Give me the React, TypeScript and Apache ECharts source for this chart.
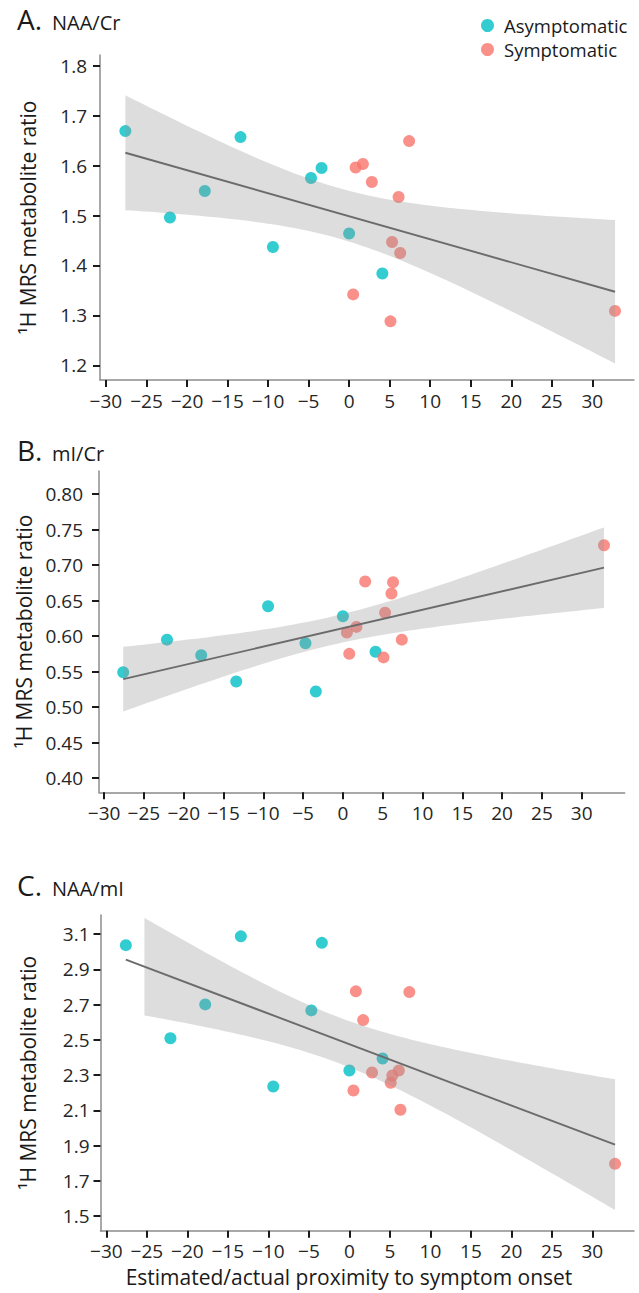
import React, { useEffect, useRef } from "react";
import * as echarts from "echarts";

// ---- data ----
const asymX = [-27.6, -22.1, -17.8, -13.4, -9.4, -4.7, -3.4, 0.0, 4.1];
const sympX = [0.5, 0.8, 1.7, 2.8, 5.1, 5.3, 6.1, 6.3, 7.4, 32.8];

const naaCrAsym = [1.669, 1.496, 1.549, 1.657, 1.437, 1.575, 1.595, 1.464, 1.384];
const naaCrSymp = [1.342, 1.596, 1.603, 1.567, 1.288, 1.447, 1.537, 1.425, 1.649, 1.309];

const miCrAsym = [0.549, 0.595, 0.573, 0.536, 0.642, 0.59, 0.522, 0.628, 0.578];
const miCrSymp = [0.605, 0.575, 0.613, 0.677, 0.57, 0.633, 0.66, 0.676, 0.595, 0.728];

const naaMiAsym = [3.037, 2.509, 2.701, 3.087, 2.236, 2.667, 3.05, 2.326, 2.394];
const naaMiSymp = [2.213, 2.775, 2.612, 2.315, 2.257, 2.298, 2.326, 2.104, 2.771, 1.797];

const xTicks = [-30, -25, -20, -15, -10, -5, 0, 5, 10, 15, 20, 25, 30];
const naaCrTicks = [1.2, 1.3, 1.4, 1.5, 1.6, 1.7, 1.8];
const miCrTicks = [0.4, 0.45, 0.5, 0.55, 0.6, 0.65, 0.7, 0.75, 0.8];
const naaMiTicks = [1.5, 1.7, 1.9, 2.1, 2.3, 2.5, 2.7, 2.9, 3.1];

const groupNames = ["Asymptomatic", "Symptomatic"];
const xTitle = "Estimated/actual proximity to symptom onset";
const yTitle = "¹H MRS metabolite ratio";

// ---- linear model fit (as geom_smooth(method = "lm")) ----
const T_CRIT = 2.1098; // t(0.975, df = 17)
function linFit(xs: number[], ys: number[]) {
  const n = xs.length;
  const mx = xs.reduce((s, v) => s + v, 0) / n;
  const my = ys.reduce((s, v) => s + v, 0) / n;
  let sxx = 0, sxy = 0;
  for (let i = 0; i < n; i++) {
    sxx += (xs[i] - mx) ** 2;
    sxy += (xs[i] - mx) * (ys[i] - my);
  }
  const b = sxy / sxx;
  const a = my - b * mx;
  let rss = 0;
  for (let i = 0; i < n; i++) rss += (ys[i] - a - b * xs[i]) ** 2;
  const s = Math.sqrt(rss / (n - 2));
  return { n, mx, sxx, a, b, s };
}

function buildFit(asym: number[], symp: number[], clipMax: number) {
  const xs = asymX.concat(sympX);
  const ys = asym.concat(symp);
  const f = linFit(xs, ys);
  const xmin = Math.min(...xs);
  const xmax = Math.max(...xs);
  const upper: number[][] = [];
  const lower: number[][] = [];
  const N = 80;
  for (let i = 0; i < N; i++) {
    const x = xmin + ((xmax - xmin) * i) / (N - 1);
    const yh = f.a + f.b * x;
    const se = f.s * Math.sqrt(1 / f.n + (x - f.mx) ** 2 / f.sxx);
    const up = yh + T_CRIT * se;
    const lo = yh - T_CRIT * se;
    if (up <= clipMax) {
      upper.push([x, up]);
      lower.push([x, lo]);
    }
  }
  const line = [
    [xmin, f.a + f.b * xmin],
    [xmax, f.a + f.b * xmax],
  ];
  return { upper, lower, line };
}

const FONT = "'Open Sans', 'Noto Sans', sans-serif";
const TEXT_COLOR = "#262626";
const ASYM_COLOR = "#00BFC4";
const SYMP_COLOR = "#F8766D";

const panels = [
  {
    letter: "A.", name: "NAA/Cr", asym: naaCrAsym, symp: naaCrSymp, ticks: naaCrTicks, dec: 1,
    grid: { left: 100, top: 55, width: 534, height: 325 },
    xMin: -30.73, xMax: 35.14, yMin: 1.1706, yMax: 1.8214, clip: Infinity,
    labelMargin: 13, titleY: 5, yLabelX: 28,
  },
  {
    letter: "B.", name: "mI/Cr", asym: miCrAsym, symp: miCrSymp, ticks: miCrTicks, dec: 2,
    grid: { left: 99, top: 471, width: 525.7, height: 321.3 },
    xMin: -30.64, xMax: 35.4, yMin: 0.3799, yMax: 0.8327, clip: Infinity,
    labelMargin: 16, titleY: 436, yLabelX: 24,
  },
  {
    letter: "C.", name: "NAA/mI", asym: naaMiAsym, symp: naaMiSymp, ticks: naaMiTicks, dec: 1,
    grid: { left: 100.5, top: 915, width: 533.5, height: 315.7 },
    xMin: -30.73, xMax: 35.14, yMin: 1.418, yMax: 3.208, clip: 3.2,
    labelMargin: 11, titleY: 871, yLabelX: 28,
  },
];

export default function App() {
  const ref = useRef<HTMLDivElement>(null);

  useEffect(() => {
    if (!ref.current) return;
    const chart = echarts.init(ref.current, undefined, { renderer: "svg" });

    const grids: any[] = [];
    const xAxes: any[] = [];
    const yAxes: any[] = [];
    const series: any[] = [];
    const graphics: any[] = [];

    panels.forEach((p, i) => {
      grids.push({ ...p.grid, containLabel: false });
      const fit = buildFit(p.asym, p.symp, p.clip);

      xAxes.push({
        type: "value", gridIndex: i, min: p.xMin, max: p.xMax,
        axisLine: { show: true, onZero: false, lineStyle: { color: "#8c8c8c", width: 1.5 } },
        axisTick: { show: true, customValues: xTicks, length: 7, lineStyle: { color: "#1a1a1a", width: 2 } },
        axisLabel: {
          show: true, customValues: xTicks, margin: 11, fontSize: 19, color: TEXT_COLOR, fontFamily: FONT,
          formatter: (v: number) => String(Math.round(v)).replace("-", "\u2212"),
        },
        splitLine: { show: false },
      });
      yAxes.push({
        type: "value", gridIndex: i, min: p.yMin, max: p.yMax,
        axisLine: { show: true, onZero: false, lineStyle: { color: "#8c8c8c", width: 1.5 } },
        axisTick: { show: true, customValues: p.ticks, length: 7, lineStyle: { color: "#1a1a1a", width: 2 } },
        axisLabel: {
          show: true, customValues: p.ticks, margin: p.labelMargin, fontSize: 19, color: TEXT_COLOR, fontFamily: FONT,
          formatter: (v: number) => v.toFixed(p.dec),
        },
        splitLine: { show: false },
      });

      series.push({
        type: "scatter", name: groupNames[0], xAxisIndex: i, yAxisIndex: i, z: 2,
        symbol: "circle", symbolSize: 12, itemStyle: { color: ASYM_COLOR },
        data: asymX.map((x, j) => [x, p.asym[j]]), silent: true,
      });
      series.push({
        type: "scatter", name: groupNames[1], xAxisIndex: i, yAxisIndex: i, z: 2,
        symbol: "circle", symbolSize: 12, itemStyle: { color: SYMP_COLOR },
        data: sympX.map((x, j) => [x, p.symp[j]]), silent: true,
      });
      const upper = fit.upper;
      const lower = fit.lower;
      series.push({
        type: "custom", xAxisIndex: i, yAxisIndex: i, z: 3, silent: true, clip: true,
        data: [[upper[0][0], upper[0][1]]],
        renderItem: (params: any, api: any) => {
          const pts = upper.map((q) => api.coord(q)).concat(lower.slice().reverse().map((q) => api.coord(q)));
          return { type: "polygon", shape: { points: pts }, style: { fill: "rgba(150,150,150,0.32)" } };
        },
      });
      series.push({
        type: "line", xAxisIndex: i, yAxisIndex: i, z: 4, silent: true,
        showSymbol: false, symbol: "none", data: fit.line,
        lineStyle: { color: "#6b6b6b", width: 1.9 },
      });

      graphics.push({
        type: "text", left: 17, top: p.titleY,
        style: { text: p.letter, fontSize: 28, fontFamily: FONT, fill: "#1a1a1a" },
      });
      graphics.push({
        type: "text", left: 52, top: p.titleY + 7,
        style: { text: p.name, fontSize: 20, fontFamily: FONT, fill: "#1a1a1a" },
      });
      graphics.push({
        type: "text", x: p.yLabelX, y: p.grid.top + p.grid.height / 2, rotation: Math.PI / 2,
        style: {
          text: yTitle, fontSize: 21, fontFamily: FONT, fill: "#1a1a1a",
          align: "center", verticalAlign: "middle",
        },
      });
    });

    graphics.push({
      type: "text", x: 349, y: 1277,
      style: { text: xTitle, fontSize: 21, fontFamily: FONT, fill: "#1a1a1a", align: "center", verticalAlign: "middle" },
    });

    chart.setOption({
      animation: false,
      backgroundColor: "#ffffff",
      textStyle: { fontFamily: FONT },
      legend: {
        data: groupNames, orient: "vertical", left: 476, top: 11,
        itemWidth: 13, itemHeight: 13, itemGap: 5, icon: "circle",
        textStyle: { fontSize: 18.5, color: "#1a1a1a", fontFamily: FONT, padding: [0, 0, 0, 5] },
        selectedMode: false,
      },
      grid: grids,
      xAxis: xAxes,
      yAxis: yAxes,
      series,
      graphic: graphics,
    });

    return () => chart.dispose();
  }, []);

  return (
    <div
      ref={ref}
      style={{ position: "absolute", left: 0, top: 0, width: 639, height: 1293, background: "#fff" }}
    />
  );
}
